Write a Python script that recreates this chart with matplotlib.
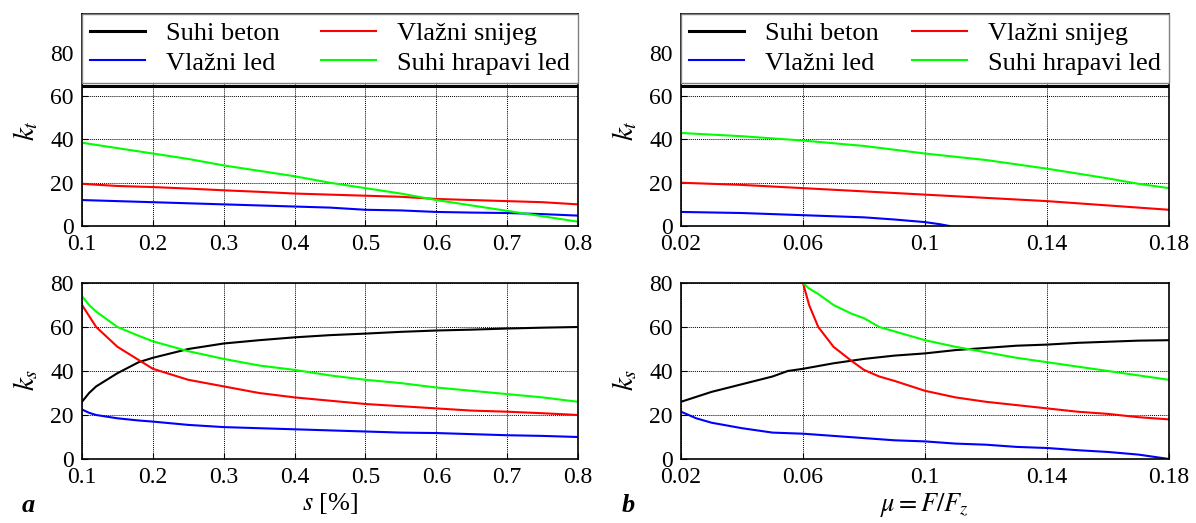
import matplotlib
matplotlib.use("Agg")
import matplotlib.pyplot as plt

plt.rcParams['font.family'] = ['Liberation Serif', 'DejaVu Serif']
plt.rcParams['mathtext.fontset'] = 'stix'
plt.rcParams['font.size'] = 17

LABELS = ["Suhi beton", "Vlažni led", "Vlažni snijeg", "Suhi hrapavi led"]
COLORS = ["#000000", "#0000ff", "#ff0000", "#00ff00"]

# =========================
# Panel a: slip s [%]
# =========================
s_x = [0.1, 0.8]
a_kt_beton = [64.5, 64.5]

a_kt_x = [0.1, 0.15, 0.2, 0.25, 0.3, 0.35, 0.4, 0.45, 0.5, 0.55, 0.6, 0.65, 0.7, 0.75, 0.8]
a_kt_led = [12, 11.5, 11, 10.5, 10, 9.5, 9, 8.5, 7.5, 7.2, 6.5, 6.2, 6, 5.5, 4.8]
a_kt_snijeg = [19.5, 18.5, 18, 17.3, 16.5, 15.8, 15, 14.5, 14, 13.5, 12.5, 12, 11.5, 11, 10]
a_kt_hrapavi = [38.5, 36, 33.5, 31, 28, 25.5, 23, 20, 17.5, 15, 12, 9.5, 7, 4.5, 2]

a_ks_x = [0.1, 0.11, 0.12, 0.15, 0.18, 0.2, 0.25, 0.3, 0.35, 0.4, 0.45, 0.5,
          0.55, 0.6, 0.65, 0.7, 0.75, 0.8]
a_ks_beton = [26, 30, 33, 39, 44, 46, 50, 52.5, 54, 55.3, 56.3, 57, 57.8, 58.4, 58.8, 59.3, 59.7, 60]
a_ks_led = [22.5, 21, 20, 18.5, 17.5, 17, 15.5, 14.5, 14, 13.5, 13, 12.5, 12, 11.8, 11.3, 10.8, 10.5, 10]
a_ks_snijeg = [70, 65, 60, 51, 45, 41, 36, 33, 30, 28, 26.5, 25, 24, 23, 22, 21.5, 20.8, 20]
a_ks_hrapavi = [74, 70, 67, 60, 56, 53.5, 49, 45.5, 42.5, 40.5, 38, 36, 34.5, 32.5, 31, 29.5, 28, 26]

# =========================
# Panel b: mu = F/Fz
# =========================
mu_x = [0.02, 0.18]
b_kt_beton = [64.5, 64.5]

b_kt_x = [0.02, 0.04, 0.06, 0.08, 0.1, 0.12, 0.14, 0.16, 0.17, 0.18]
b_kt_snijeg = [20, 19, 17.5, 16, 14.5, 13, 11.5, 9.5, 8.5, 7.5]
b_kt_hrapavi = [43, 41.5, 39.5, 37, 33.5, 30.5, 26.5, 22, 19.5, 17.5]
b_kt_led_x = [0.02, 0.04, 0.06, 0.08, 0.09, 0.1, 0.105, 0.108]
b_kt_led = [6.5, 6, 5, 4, 3, 1.8, 0.8, 0]

b_ks_x = [0.02, 0.03, 0.04, 0.05, 0.055, 0.06, 0.07, 0.08, 0.09, 0.1, 0.11,
          0.12, 0.13, 0.14, 0.15, 0.16, 0.17, 0.18]
b_ks_beton = [26, 30.5, 34, 37.5, 40, 41, 43.5, 45.5, 47, 48, 49.5, 50.5, 51.5, 52, 52.8, 53.3, 53.8, 54]
b_ks_led_x = [0.02, 0.025, 0.03, 0.04, 0.05, 0.06, 0.07, 0.08, 0.09, 0.1, 0.11,
              0.12, 0.13, 0.14, 0.15, 0.16, 0.17, 0.175, 0.18]
b_ks_led = [21.5, 18.5, 16.5, 14, 12, 11.5, 10.5, 9.5, 8.5, 8, 7, 6.5, 5.5, 5, 4, 3.2, 2, 1, 0]
b_ks_ice_x = [0.06, 0.062, 0.065, 0.07, 0.076, 0.08, 0.085, 0.09, 0.1, 0.11,
              0.12, 0.13, 0.14, 0.15, 0.16, 0.17, 0.18]
b_ks_snijeg = [80, 70, 60, 51, 44.5, 40.5, 37.5, 35.5, 31, 28, 26, 24.5, 23, 21.5, 20.5, 19, 18]
b_ks_hrapavi = [80, 77.5, 75, 70, 66, 64, 60, 58, 54, 51, 48.5, 46, 44, 42, 40, 38, 36]

fig = plt.figure(figsize=(11.96, 5.23), dpi=100)

ax_at = fig.add_axes([82 / 1196, 1 - 226 / 523, 496 / 1196, 212 / 523])
ax_ab = fig.add_axes([82 / 1196, 1 - 459 / 523, 496 / 1196, 176 / 523])
ax_bt = fig.add_axes([681 / 1196, 1 - 226 / 523, 488 / 1196, 212 / 523])
ax_bb = fig.add_axes([681 / 1196, 1 - 459 / 523, 488 / 1196, 176 / 523])

lw = 1.5

# top a
ax_at.plot(s_x, a_kt_beton, color=COLORS[0], lw=2.2, label=LABELS[0])
ax_at.plot(a_kt_x, a_kt_led, color=COLORS[1], lw=lw, label=LABELS[1])
ax_at.plot(a_kt_x, a_kt_snijeg, color=COLORS[2], lw=lw, label=LABELS[2])
ax_at.plot(a_kt_x, a_kt_hrapavi, color=COLORS[3], lw=lw, label=LABELS[3])

# bottom a
ax_ab.plot(a_ks_x, a_ks_beton, color=COLORS[0], lw=lw)
ax_ab.plot(a_ks_x, a_ks_led, color=COLORS[1], lw=lw)
ax_ab.plot(a_ks_x, a_ks_snijeg, color=COLORS[2], lw=lw)
ax_ab.plot(a_ks_x, a_ks_hrapavi, color=COLORS[3], lw=lw)

# top b
ax_bt.plot(mu_x, b_kt_beton, color=COLORS[0], lw=2.2, label=LABELS[0])
ax_bt.plot(b_kt_led_x, b_kt_led, color=COLORS[1], lw=lw, label=LABELS[1])
ax_bt.plot(b_kt_x, b_kt_snijeg, color=COLORS[2], lw=lw, label=LABELS[2])
ax_bt.plot(b_kt_x, b_kt_hrapavi, color=COLORS[3], lw=lw, label=LABELS[3])

# bottom b
ax_bb.plot(b_ks_x, b_ks_beton, color=COLORS[0], lw=lw)
ax_bb.plot(b_ks_led_x, b_ks_led, color=COLORS[1], lw=lw)
ax_bb.plot(b_ks_ice_x, b_ks_snijeg, color=COLORS[2], lw=lw)
ax_bb.plot(b_ks_ice_x, b_ks_hrapavi, color=COLORS[3], lw=lw)

for ax in (ax_at, ax_ab):
    ax.set_xlim(0.1, 0.8)
    ax.set_xticks([0.1, 0.2, 0.3, 0.4, 0.5, 0.6, 0.7, 0.8])
    ax.set_xticklabels(["0.1", "0.2", "0.3", "0.4", "0.5", "0.6", "0.7", "0.8"])

for ax in (ax_bt, ax_bb):
    ax.set_xlim(0.02, 0.18)
    ax.set_xticks([0.02, 0.06, 0.1, 0.14, 0.18])
    ax.set_xticklabels(["0.02", "0.06", "0.1", "0.14", "0.18"])

for ax in (ax_at, ax_bt):
    ax.set_ylim(0, 98)
    ax.set_ylabel(r"$k_t$", fontsize=21)
    leg = ax.legend(ncol=2, loc="upper left", bbox_to_anchor=(0, 1, 1, 0),
                    mode="expand", borderaxespad=0, fancybox=False,
                    framealpha=1, edgecolor="#808080", fontsize=19,
                    handlelength=2.1, labelspacing=0.22, borderpad=0.3,
                    handletextpad=0.8, columnspacing=1.2)
    leg.get_frame().set_linewidth(1.0)
    leg.set_zorder(10)

for ax in (ax_ab, ax_bb):
    ax.set_ylim(0, 80)
    ax.set_ylabel(r"$k_s$", fontsize=21)

for ax in (ax_at, ax_ab, ax_bt, ax_bb):
    ax.set_yticks([0, 20, 40, 60, 80])
    ax.grid(True, color="black", linestyle=(0, (1, 1)), linewidth=0.7)
    ax.tick_params(direction="in", length=4, width=0.8, pad=6)
    ax.yaxis.set_label_coords(-0.085, 0.45)
    for sp in ax.spines.values():
        sp.set_linewidth(1.2)

ax_ab.set_xlabel(r"$s$ [%]", fontsize=19, labelpad=2)
ax_bb.set_xlabel(r"$\mu = F/F_z$", fontsize=19, labelpad=2)

fig.text(22 / 1196, 1 - 505 / 523, "a", fontsize=19, fontweight="bold",
         fontstyle="italic", va="center")
fig.text(622 / 1196, 1 - 505 / 523, "b", fontsize=19, fontweight="bold",
         fontstyle="italic", va="center")

plt.savefig("out.png", dpi=100)
plt.close()
